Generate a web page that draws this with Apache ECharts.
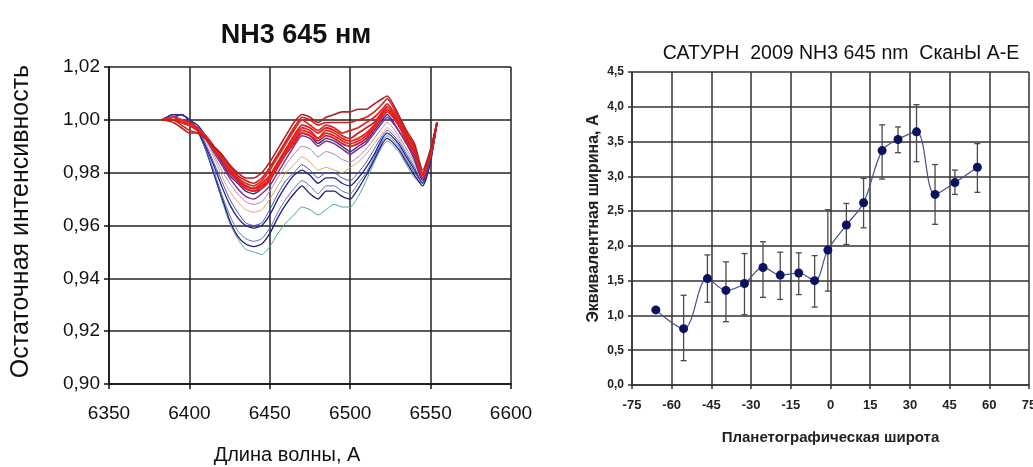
<!DOCTYPE html>
<html>
<head>
<meta charset="utf-8">
<script src="https://cdn.jsdelivr.net/npm/echarts@6/dist/echarts.min.js"></script>
<style>
  html, body { margin: 0; padding: 0; background: #fff; }
  #chart { width: 1033px; height: 467px; }
</style>
</head>
<body>
<div id="chart"></div>
<script>
// ---- left panel: spectra ----
const wavelengths = [6383, 6390, 6395, 6400, 6405, 6410, 6415, 6420, 6425, 6430, 6435, 6440, 6445, 6450, 6455, 6460, 6465, 6470, 6475, 6480, 6485, 6490, 6495, 6500, 6505, 6510, 6515, 6520, 6523, 6530, 6535, 6540, 6545, 6550, 6554];

const specT1 = [1.000, 1.002, 1.002, 1.000, 0.996, 0.989, 0.980, 0.970, 0.961, 0.955, 0.951, 0.950, 0.949, 0.952, 0.957, 0.961, 0.964, 0.967, 0.966, 0.964, 0.966, 0.968, 0.967, 0.967, 0.971, 0.977, 0.984, 0.990, 0.992, 0.988, 0.983, 0.978, 0.976, 0.985, 0.999];
const specN3 = [1.000, 1.002, 1.002, 1.000, 0.996, 0.989, 0.980, 0.971, 0.962, 0.956, 0.953, 0.952, 0.953, 0.957, 0.963, 0.968, 0.972, 0.975, 0.972, 0.970, 0.973, 0.973, 0.971, 0.970, 0.974, 0.979, 0.985, 0.991, 0.993, 0.989, 0.984, 0.979, 0.975, 0.984, 0.999];
const specB2 = [1.000, 1.002, 1.002, 1.000, 0.996, 0.989, 0.981, 0.972, 0.964, 0.958, 0.955, 0.954, 0.955, 0.959, 0.965, 0.970, 0.974, 0.977, 0.975, 0.972, 0.975, 0.975, 0.973, 0.972, 0.976, 0.980, 0.986, 0.992, 0.994, 0.990, 0.985, 0.980, 0.976, 0.985, 0.999];
const specN2 = [1.000, 1.002, 1.002, 1.000, 0.996, 0.990, 0.983, 0.975, 0.968, 0.963, 0.960, 0.959, 0.960, 0.964, 0.970, 0.975, 0.979, 0.981, 0.979, 0.976, 0.978, 0.978, 0.976, 0.975, 0.978, 0.982, 0.987, 0.993, 0.995, 0.991, 0.986, 0.981, 0.976, 0.985, 0.999];
const specB1 = [1.000, 1.001, 1.002, 1.000, 0.997, 0.991, 0.984, 0.977, 0.970, 0.965, 0.961, 0.960, 0.961, 0.966, 0.972, 0.977, 0.980, 0.983, 0.981, 0.978, 0.980, 0.980, 0.978, 0.977, 0.980, 0.984, 0.989, 0.994, 0.996, 0.992, 0.987, 0.982, 0.976, 0.985, 0.999];
const specO1 = [1.000, 1.001, 1.002, 1.000, 0.997, 0.992, 0.986, 0.979, 0.973, 0.969, 0.966, 0.965, 0.966, 0.970, 0.975, 0.980, 0.983, 0.986, 0.984, 0.981, 0.982, 0.981, 0.980, 0.982, 0.984, 0.987, 0.991, 0.995, 0.997, 0.993, 0.988, 0.983, 0.977, 0.986, 0.999];
const specL1 = [1.000, 1.001, 1.002, 1.000, 0.998, 0.993, 0.987, 0.981, 0.976, 0.972, 0.969, 0.968, 0.969, 0.973, 0.978, 0.983, 0.987, 0.990, 0.989, 0.986, 0.988, 0.987, 0.985, 0.984, 0.986, 0.989, 0.993, 0.997, 0.999, 0.994, 0.989, 0.984, 0.977, 0.986, 0.999];
const specN1 = [1.000, 1.001, 1.002, 1.000, 0.998, 0.994, 0.989, 0.984, 0.979, 0.976, 0.973, 0.972, 0.974, 0.978, 0.983, 0.988, 0.992, 0.995, 0.994, 0.991, 0.993, 0.992, 0.990, 0.988, 0.990, 0.992, 0.996, 1.000, 1.002, 0.996, 0.991, 0.985, 0.977, 0.986, 0.999];
const specP1 = [1.000, 1.001, 1.000, 0.999, 0.997, 0.993, 0.988, 0.983, 0.978, 0.974, 0.971, 0.970, 0.972, 0.975, 0.980, 0.985, 0.990, 0.994, 0.993, 0.990, 0.992, 0.991, 0.989, 0.987, 0.989, 0.991, 0.995, 0.999, 1.001, 0.996, 0.991, 0.986, 0.978, 0.987, 0.999];
const specR7 = [1.000, 1.000, 0.999, 0.998, 0.997, 0.994, 0.990, 0.986, 0.982, 0.978, 0.975, 0.974, 0.975, 0.978, 0.983, 0.988, 0.992, 0.996, 0.995, 0.993, 0.995, 0.994, 0.992, 0.991, 0.992, 0.994, 0.998, 1.002, 1.004, 0.998, 0.993, 0.988, 0.979, 0.988, 0.999];
const specR6 = [1.000, 1.001, 1.000, 0.999, 0.997, 0.994, 0.990, 0.985, 0.981, 0.977, 0.974, 0.973, 0.974, 0.977, 0.982, 0.987, 0.991, 0.995, 0.994, 0.992, 0.994, 0.993, 0.991, 0.990, 0.991, 0.993, 0.997, 1.001, 1.003, 0.998, 0.992, 0.987, 0.978, 0.987, 0.999];
const specR5 = [1.000, 1.001, 1.000, 0.998, 0.996, 0.993, 0.989, 0.985, 0.980, 0.977, 0.974, 0.973, 0.975, 0.978, 0.983, 0.988, 0.993, 0.997, 0.996, 0.993, 0.996, 0.995, 0.993, 0.992, 0.993, 0.995, 0.998, 1.002, 1.004, 0.998, 0.993, 0.988, 0.978, 0.987, 0.999];
const specR4 = [1.000, 1.000, 0.999, 0.998, 0.996, 0.993, 0.989, 0.985, 0.981, 0.977, 0.975, 0.974, 0.976, 0.979, 0.984, 0.989, 0.994, 0.998, 0.997, 0.995, 0.997, 0.996, 0.994, 0.993, 0.995, 0.997, 0.999, 1.003, 1.005, 0.999, 0.993, 0.988, 0.979, 0.988, 0.999];
const specR3 = [1.000, 1.000, 0.999, 0.998, 0.997, 0.994, 0.990, 0.986, 0.982, 0.978, 0.976, 0.975, 0.977, 0.981, 0.986, 0.991, 0.996, 1.000, 0.998, 0.996, 0.998, 0.997, 0.995, 0.996, 0.997, 0.999, 1.001, 1.004, 1.006, 1.000, 0.994, 0.989, 0.979, 0.988, 0.999];
const specR2 = [1.000, 1.000, 0.998, 0.996, 0.995, 0.993, 0.990, 0.987, 0.983, 0.979, 0.977, 0.976, 0.978, 0.982, 0.987, 0.992, 0.997, 1.001, 1.000, 0.998, 0.999, 0.999, 0.999, 0.999, 1.000, 1.001, 1.003, 1.006, 1.008, 1.001, 0.995, 0.990, 0.980, 0.988, 0.999];
const specR1 = [1.000, 0.999, 0.997, 0.995, 0.995, 0.993, 0.990, 0.987, 0.983, 0.980, 0.978, 0.978, 0.980, 0.984, 0.989, 0.994, 0.999, 1.002, 1.001, 0.999, 1.001, 1.002, 1.003, 1.003, 1.004, 1.004, 1.006, 1.008, 1.009, 1.002, 0.996, 0.991, 0.981, 0.989, 0.999];

// drawing order: bottom curves first, reds on top
const spectra = [
  { v: specT1, c: '#4fa3a0', w: 1 },
  { v: specN3, c: '#20206e', w: 1.3 },
  { v: specB2, c: '#5a6ad0', w: 1 },
  { v: specN2, c: '#22228a', w: 1.3 },
  { v: specB1, c: '#3f4fc4', w: 1 },
  { v: specO1, c: '#e0a46a', w: 1 },
  { v: specL1, c: '#a884c4', w: 1 },
  { v: specN1, c: '#2a2a9a', w: 1.4 },
  { v: specP1, c: '#8a2a80', w: 1.4 },
  { v: specR7, c: '#e82020', w: 1.8 },
  { v: specR6, c: '#e41c1c', w: 1.8 },
  { v: specR5, c: '#ec2424', w: 1.8 },
  { v: specR4, c: '#d82020', w: 1.8 },
  { v: specR3, c: '#e82424', w: 1.8 },
  { v: specR2, c: '#c82222', w: 1.6 },
  { v: specR1, c: '#b82020', w: 1.6 }
];

// ---- right panel: equivalent width vs latitude ----
const latitudes = [-66, -55.5, -46.5, -39.5, -32.5, -25.5, -19, -12, -6, -1, 6, 12.5, 19.5, 25.5, 32.5, 39.5, 47, 55.5];
const eqWidth  = [1.08, 0.81, 1.53, 1.36, 1.46, 1.69, 1.58, 1.61, 1.50, 1.94, 2.30, 2.62, 3.37, 3.53, 3.64, 2.74, 2.91, 3.13];
const errLow   = [1.08, 0.35, 1.19, 0.91, 1.01, 1.26, 1.23, 1.30, 1.12, 1.35, 2.02, 2.26, 2.96, 3.34, 3.21, 2.31, 2.74, 2.77];
const errHigh  = [1.08, 1.29, 1.87, 1.77, 1.89, 2.06, 1.91, 1.90, 1.86, 2.52, 2.61, 2.97, 3.74, 3.71, 4.03, 3.17, 3.09, 3.47];

const chart = echarts.init(document.getElementById('chart'));

const FONT = '"Liberation Sans", Arial, sans-serif';
const NARROW = '"Liberation Sans Narrow", "Arial Narrow", "Liberation Sans", Arial, sans-serif';
const comma = (d) => (v) => v.toFixed(d).replace('.', ',');

const seriesList = spectra.map(s => ({
  type: 'line',
  xAxisIndex: 0,
  yAxisIndex: 0,
  showSymbol: false,
  smooth: 0.2,
  silent: true,
  lineStyle: { color: s.c, width: s.w },
  data: wavelengths.map((x, i) => [x, s.v[i]])
}));

seriesList.push({
  type: 'custom',
  xAxisIndex: 1,
  yAxisIndex: 1,
  silent: true,
  renderItem: function (params, api) {
    const x = api.value(0);
    const lo = api.coord([x, api.value(1)]);
    const hi = api.coord([x, api.value(2)]);
    const cap = 3;
    const st = { stroke: '#4a4a4a', lineWidth: 1.3 };
    return {
      type: 'group',
      children: [
        { type: 'line', shape: { x1: lo[0], y1: lo[1], x2: hi[0], y2: hi[1] }, style: st },
        { type: 'line', shape: { x1: lo[0] - cap, y1: lo[1], x2: lo[0] + cap, y2: lo[1] }, style: st },
        { type: 'line', shape: { x1: hi[0] - cap, y1: hi[1], x2: hi[0] + cap, y2: hi[1] }, style: st }
      ]
    };
  },
  data: latitudes.map((x, i) => [x, errLow[i], errHigh[i]]),
  z: 3
});

seriesList.push({
  type: 'line',
  xAxisIndex: 1,
  yAxisIndex: 1,
  smooth: 0.35,
  symbol: 'circle',
  symbolSize: 9,
  silent: true,
  lineStyle: { color: '#4a4f8a', width: 1.2 },
  itemStyle: { color: '#0c1260' },
  data: latitudes.map((x, i) => [x, eqWidth[i]]),
  z: 4
});

const option = {
  backgroundColor: '#fff',
  animation: false,
  title: [
    {
      text: 'NH3 645 нм',
      left: 291, top: 17, textAlign: 'center',
      textStyle: { fontFamily: FONT, fontSize: 27, fontWeight: 'bold', color: '#111' }
    },
    {
      text: 'САТУРН  2009 NH3 645 nm  СканЫ А-Е',
      left: 836, top: 39, textAlign: 'center',
      textStyle: { fontFamily: FONT, fontSize: 19.5, fontWeight: 'normal', color: '#111' }
    }
  ],
  grid: [
    { left: 109, top: 67, width: 402, height: 317, outerBoundsMode: 'none' },
    { left: 632, top: 72, width: 397, height: 313, outerBoundsMode: 'none' }
  ],
  xAxis: [
    {
      gridIndex: 0, type: 'value', min: 6350, max: 6600, interval: 50,
      name: 'Длина волны, А', nameLocation: 'middle', nameGap: 61,
      nameTextStyle: { fontFamily: FONT, fontSize: 20, color: '#111', padding: [0, 46, 0, 0] },
      axisLine: { show: true, onZero: false, lineStyle: { color: '#111', width: 1.5 } },
      axisTick: { show: true, length: 5, lineStyle: { color: '#111', width: 1.5 } },
      axisLabel: { fontFamily: FONT, fontSize: 19, color: '#111', margin: 20, formatter: (v) => String(v) },
      splitLine: { show: true, lineStyle: { color: '#222', width: 1.5 } }
    },
    {
      gridIndex: 1, type: 'value', min: -75, max: 75, interval: 15,
      name: 'Планетографическая широта', nameLocation: 'middle', nameGap: 45,
      nameTextStyle: { fontFamily: NARROW, fontSize: 15, fontWeight: 'bold', color: '#222' },
      axisLine: { show: true, onZero: false, lineStyle: { color: '#333', width: 1.5 } },
      axisTick: { show: true, length: 4, lineStyle: { color: '#333', width: 1.5 } },
      axisLabel: { fontFamily: NARROW, fontSize: 13, fontWeight: 'bold', color: '#222', margin: 14, formatter: (v) => String(v) },
      splitLine: { show: true, lineStyle: { color: '#333', width: 1.5 } }
    }
  ],
  yAxis: [
    {
      gridIndex: 0, type: 'value', min: 0.90, max: 1.02, interval: 0.02,
      name: 'Остаточная интенсивность', nameLocation: 'middle', nameGap: 75,
      nameTextStyle: { fontFamily: FONT, fontSize: 25, color: '#111', padding: [0, 0, 0, 8] },
      axisLine: { show: true, onZero: false, lineStyle: { color: '#111', width: 1.5 } },
      axisTick: { show: true, length: 5, lineStyle: { color: '#111', width: 1.5 } },
      axisLabel: { fontFamily: FONT, fontSize: 19, color: '#111', margin: 9, formatter: comma(2) },
      splitLine: { show: true, lineStyle: { color: '#222', width: 1.5 } }
    },
    {
      gridIndex: 1, type: 'value', min: 0, max: 4.5, interval: 0.5,
      name: 'Эквивалентная ширина, А', nameLocation: 'middle', nameGap: 30,
      nameTextStyle: { fontFamily: NARROW, fontSize: 16, fontWeight: 'bold', color: '#222', padding: [0, 0, 0, 20] },
      axisLine: { show: true, onZero: false, lineStyle: { color: '#333', width: 1.5 } },
      axisTick: { show: true, length: 4, lineStyle: { color: '#333', width: 1.5 } },
      axisLabel: { fontFamily: FONT, fontSize: 12, fontWeight: 'bold', color: '#222', margin: 8, formatter: comma(1) },
      splitLine: { show: true, lineStyle: { color: '#333', width: 1.5 } }
    }
  ],
  series: seriesList
};

chart.setOption(option);
</script>
</body>
</html>
